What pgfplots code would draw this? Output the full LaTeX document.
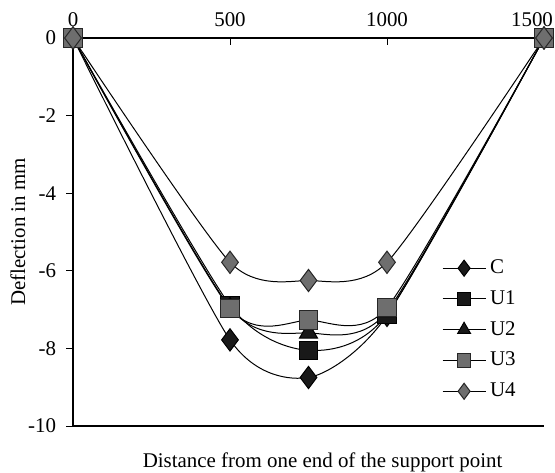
\documentclass[border=0pt]{standalone}
\usepackage{pgfplots}
\pgfplotsset{compat=1.18}
\usepackage{fontspec}
\setmainfont{Liberation Serif}

\definecolor{mkdark}{gray}{0.10}
\definecolor{mkgray}{gray}{0.43}

\begin{document}
\begin{tikzpicture}[font=\fontsize{10.5}{12.5}\selectfont]
\begin{axis}[
    scale only axis,
    width=235.5bp, height=194bp,
    xmin=0, xmax=1500, ymin=-10, ymax=0,
    axis x line=top, axis y line=left,
    axis line style={-, line width=0.6pt},
    xtick={0,500,1000,1500},
    xticklabels={0,500,1000,{\hspace*{-12bp}1500}},
    ytick={0,-2,-4,-6,-8,-10},
    tick align=inside,
    major tick length=3.5pt,
    tick style={black, line width=0.5pt},
    ytick style={xshift=-3.5pt},
    yticklabel style={xshift=-5pt},
    xticklabel style={yshift=2pt},
    /pgf/number format/assume math mode=true,
    ylabel={Deflection in mm},
    ylabel style={yshift=-5.5pt},
    xlabel={Distance from one end of the support point},
    xlabel style={at={(axis description cs:0.53,0)}, anchor=north, yshift=-10pt},
    legend style={draw=none, fill=none, at={(axis description cs:0.77,0.45)},
        anchor=north west, row sep=3pt},
    legend cell align=left,
    legend image code/.code={
        \draw[mark repeat=2, mark phase=2, #1, /tikz/every mark/.append style={scale=0.72}]
            plot coordinates {(0cm,0cm) (0.38cm,0cm) (0.76cm,0cm)};},
    every axis plot/.append style={smooth, tension=0.4, black, line width=0.5pt},
]

\addplot[mark=diamond*, mark size=5.6pt, mark options={fill=mkdark, draw=black}]
    coordinates {(0,0) (500,-7.78) (750,-8.75) (1000,-7.15) (1500,0)};
\addlegendentry{C}

\addplot[mark=square*, mark size=4.6pt, mark options={fill=mkdark, draw=black}]
    coordinates {(0,0) (500,-6.89) (750,-8.05) (1000,-7.12) (1500,0)};
\addlegendentry{U1}

\addplot[mark=triangle*, mark size=5.2pt, mark options={fill=mkdark, draw=black}]
    coordinates {(0,0) (500,-6.95) (750,-7.6) (1000,-7.05) (1500,0)};
\addlegendentry{U2}

\addplot[mark=square*, mark size=4.6pt, mark options={fill=mkgray, draw=black!85}]
    coordinates {(0,0) (500,-6.97) (750,-7.27) (1000,-6.95) (1500,0)};
\addlegendentry{U3}

\addplot[mark=diamond*, mark size=5.6pt, mark options={fill=mkgray, draw=black!85}]
    coordinates {(0,0) (500,-5.78) (750,-6.25) (1000,-5.78) (1500,0)};
\addlegendentry{U4}

\draw[line width=0.6pt] (rel axis cs:0,0) -- (rel axis cs:1,0);
\coordinate (bbsw) at (rel axis cs:0,0);
\coordinate (bbne) at (rel axis cs:1,1);
\end{axis}
\pgfresetboundingbox
\path[use as bounding box] ([xshift=-36.5bp,yshift=-23.5bp]bbsw) rectangle ([xshift=5.5bp,yshift=19bp]bbne);
\end{tikzpicture}
\end{document}
